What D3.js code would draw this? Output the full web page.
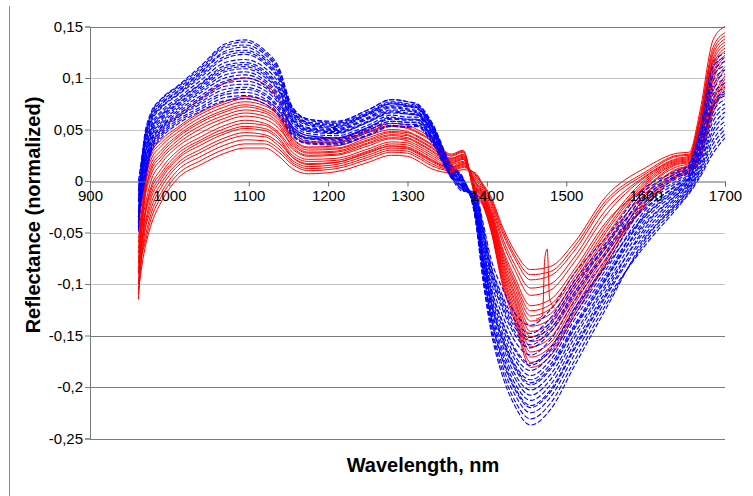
<!DOCTYPE html>
<html>
<head>
<meta charset="utf-8">
<script src="https://cdn.jsdelivr.net/npm/d3@7"></script>
<style>
body { margin: 0; background: #fff; }
svg text { font-family: "Liberation Sans", Arial, sans-serif; fill: #000; }
</style>
</head>
<body>
<div id="chart-area"></div>
<script>
const wavelengths = [961, 968, 976, 990, 1010, 1040, 1070, 1095, 1120, 1138,
  1155, 1175, 1210, 1250, 1280, 1300, 1312, 1330, 1355, 1370,
  1385, 1395, 1405, 1420, 1435, 1455, 1480, 1510, 1550,
  1600, 1640, 1655, 1668, 1685, 1700];

// blue (dashed) spectra
const blue1 = [-0.02, 0.040,0.065,0.080,0.092,0.112,0.133,0.137,0.127,0.110, 0.071,0.060,0.057,0.069,0.079,0.077,0.074,0.057,0.015,0.002, -0.035,-0.096,-0.145,-0.190,-0.218,-0.237,-0.222,-0.180,-0.124, -0.056,-0.022,-0.009,0.008,0.036,0.050];
const blue2 = [0.0, 0.036,0.062,0.077,0.089,0.108,0.129,0.132,0.123,0.106, 0.069,0.057,0.055,0.066,0.076,0.074,0.072,0.055,0.014,0.001, -0.032,-0.089,-0.137,-0.180,-0.207,-0.225,-0.210,-0.169,-0.116, -0.062,-0.026,-0.012,0.003,0.027,0.042];
const blue3 = [-0.035, 0.032,0.058,0.074,0.086,0.105,0.124,0.127,0.118,0.102, 0.070,0.059,0.056,0.067,0.077,0.075,0.073,0.056,0.015,0.002, -0.029,-0.082,-0.128,-0.169,-0.196,-0.213,-0.198,-0.158,-0.107, -0.045,-0.015,-0.003,0.017,0.053,0.067];
const blue4 = [-0.01, 0.029,0.055,0.071,0.083,0.101,0.119,0.123,0.114,0.098, 0.064,0.054,0.051,0.062,0.072,0.070,0.068,0.052,0.012,-0.001, -0.030,-0.085,-0.131,-0.173,-0.200,-0.218,-0.203,-0.162,-0.110, -0.051,-0.019,-0.006,0.012,0.045,0.058];
const blue5 = [-0.048, 0.025,0.052,0.068,0.080,0.098,0.115,0.118,0.110,0.095, 0.066,0.055,0.052,0.064,0.073,0.072,0.070,0.053,0.013,0.000, -0.025,-0.074,-0.117,-0.156,-0.182,-0.198,-0.183,-0.144,-0.096, -0.037,-0.010,0.001,0.024,0.067,0.079];
const blue6 = [-0.005, 0.021,0.048,0.064,0.077,0.094,0.110,0.113,0.105,0.090, 0.060,0.050,0.048,0.058,0.068,0.066,0.065,0.049,0.010,-0.003, -0.026,-0.076,-0.121,-0.160,-0.187,-0.203,-0.188,-0.149,-0.100, -0.042,-0.013,-0.002,0.020,0.058,0.071];
const blue7 = [-0.03, 0.018,0.045,0.061,0.074,0.090,0.106,0.109,0.101,0.087, 0.061,0.051,0.049,0.060,0.069,0.068,0.066,0.050,0.011,-0.002, -0.021,-0.065,-0.107,-0.143,-0.169,-0.184,-0.169,-0.131,-0.086, -0.028,-0.004,0.005,0.031,0.080,0.091];
const blue8 = [-0.015, 0.013,0.041,0.057,0.070,0.086,0.100,0.103,0.096,0.082, 0.056,0.046,0.044,0.054,0.064,0.062,0.062,0.046,0.008,-0.005, -0.023,-0.068,-0.110,-0.148,-0.173,-0.189,-0.174,-0.135,-0.090, -0.034,-0.008,0.003,0.027,0.071,0.083];
const blue9 = [-0.04, 0.009,0.037,0.053,0.066,0.081,0.095,0.097,0.091,0.077, 0.051,0.042,0.041,0.051,0.060,0.059,0.059,0.043,0.006,-0.007, -0.018,-0.057,-0.096,-0.131,-0.155,-0.169,-0.154,-0.117,-0.076, -0.020,0.001,0.010,0.038,0.093,0.104];
const blue10 = [-0.025, 0.004,0.033,0.050,0.062,0.077,0.089,0.091,0.085,0.072, 0.053,0.044,0.042,0.052,0.061,0.060,0.060,0.044,0.007,-0.006, -0.014,-0.048,-0.086,-0.118,-0.142,-0.155,-0.140,-0.104,-0.065, -0.026,-0.003,0.007,0.034,0.084,0.095];
const blue11 = [-0.045, 0.000,0.029,0.046,0.059,0.072,0.084,0.086,0.080,0.068, 0.047,0.039,0.037,0.047,0.056,0.055,0.055,0.040,0.004,-0.009, -0.015,-0.051,-0.089,-0.122,-0.146,-0.159,-0.144,-0.108,-0.069, -0.012,0.006,0.014,0.045,0.106,0.116];
const blue12 = [-0.03, -0.005,0.025,0.042,0.055,0.068,0.078,0.080,0.075,0.063, 0.044,0.036,0.035,0.044,0.053,0.052,0.053,0.038,0.003,-0.010, -0.010,-0.040,-0.075,-0.105,-0.128,-0.140,-0.125,-0.090,-0.055, -0.006,0.010,0.017,0.050,0.115,0.124];
const blue13 = [-0.01, 0.038,0.063,0.079,0.091,0.110,0.131,0.135,0.125,0.108, 0.072,0.060,0.058,0.069,0.079,0.077,0.075,0.058,0.016,0.003, -0.034,-0.093,-0.141,-0.185,-0.213,-0.231,-0.216,-0.175,-0.120, -0.059,-0.024,-0.011,0.005,0.031,0.046];
const blue14 = [-0.04, 0.034,0.060,0.075,0.087,0.106,0.126,0.130,0.120,0.104, 0.067,0.056,0.053,0.065,0.075,0.073,0.071,0.054,0.013,0.000, -0.031,-0.086,-0.132,-0.175,-0.202,-0.220,-0.205,-0.164,-0.112, -0.054,-0.021,-0.008,0.010,0.040,0.054];
const blue15 = [-0.02, 0.031,0.057,0.072,0.084,0.103,0.121,0.125,0.116,0.100, 0.068,0.057,0.054,0.065,0.075,0.073,0.071,0.054,0.014,0.001, -0.028,-0.079,-0.124,-0.165,-0.191,-0.208,-0.193,-0.153,-0.103, -0.048,-0.017,-0.005,0.015,0.049,0.063];
const blue16 = [-0.035, 0.023,0.050,0.066,0.078,0.095,0.112,0.115,0.107,0.092, 0.063,0.052,0.050,0.061,0.071,0.069,0.067,0.051,0.011,-0.002, -0.024,-0.071,-0.114,-0.152,-0.178,-0.193,-0.178,-0.140,-0.093, -0.040,-0.012,0.000,0.022,0.062,0.075];
const blue17 = [-0.01, 0.019,0.047,0.063,0.075,0.092,0.108,0.111,0.103,0.088, 0.058,0.048,0.046,0.057,0.066,0.065,0.064,0.048,0.009,-0.004, -0.025,-0.073,-0.116,-0.154,-0.180,-0.196,-0.181,-0.142,-0.095, -0.031,-0.006,0.004,0.029,0.075,0.087];
const blue18 = [-0.045, 0.015,0.043,0.059,0.072,0.088,0.103,0.106,0.098,0.084, 0.059,0.049,0.047,0.057,0.067,0.065,0.064,0.048,0.010,-0.004, -0.020,-0.061,-0.102,-0.137,-0.162,-0.177,-0.162,-0.124,-0.081, -0.023,-0.001,0.008,0.036,0.089,0.099];
const blue19 = [-0.02, 0.011,0.039,0.055,0.068,0.083,0.097,0.100,0.093,0.079, 0.053,0.044,0.042,0.052,0.062,0.060,0.060,0.044,0.007,-0.006, -0.020,-0.062,-0.103,-0.139,-0.164,-0.179,-0.164,-0.126,-0.083, -0.033,-0.007,0.003,0.027,0.072,0.085];
const blue20 = [-0.035, 0.006,0.035,0.052,0.064,0.079,0.092,0.094,0.088,0.075, 0.050,0.041,0.040,0.049,0.058,0.057,0.057,0.042,0.006,-0.007, -0.016,-0.053,-0.091,-0.125,-0.149,-0.162,-0.147,-0.111,-0.071, -0.017,0.003,0.011,0.041,0.097,0.108];
const blue21 = [-0.015, 0.002,0.031,0.048,0.061,0.075,0.086,0.089,0.083,0.070, 0.049,0.041,0.039,0.049,0.058,0.057,0.057,0.042,0.005,-0.008, -0.012,-0.044,-0.081,-0.112,-0.135,-0.148,-0.133,-0.097,-0.060, -0.009,0.008,0.016,0.048,0.111,0.120];
const blue22 = [-0.04, -0.003,0.027,0.044,0.057,0.070,0.081,0.083,0.078,0.065, 0.045,0.037,0.036,0.045,0.054,0.053,0.054,0.039,0.004,-0.009, -0.013,-0.047,-0.083,-0.115,-0.139,-0.152,-0.137,-0.101,-0.063, -0.014,0.005,0.013,0.043,0.102,0.112];

// red (solid) spectra
const red1 = [-0.06, -0.012,0.028,0.050,0.063,0.080,0.095,0.100,0.094,0.080, 0.052,0.042,0.041,0.050,0.056,0.054,0.050,0.042,0.026,0.030, -0.014,-0.024,-0.048,-0.102,-0.136,-0.181,-0.170,-0.131,-0.081, -0.021,0.006,0.010,0.025,0.073,0.096];
const red2 = [-0.03, -0.004,0.026,0.040,0.052,0.067,0.077,0.082,0.078,0.068, 0.046,0.037,0.037,0.047,0.053,0.051,0.047,0.039,0.024,0.028, -0.010,-0.021,-0.043,-0.093,-0.126,-0.166,-0.157,-0.120,-0.071, -0.025,0.004,0.008,0.020,0.066,0.090];
const red3 = [-0.08, -0.011,0.019,0.034,0.047,0.062,0.072,0.077,0.073,0.063, 0.042,0.033,0.034,0.044,0.050,0.048,0.044,0.036,0.022,0.026, -0.013,-0.023,-0.047,-0.099,-0.133,-0.176,-0.166,-0.128,-0.078, -0.014,0.011,0.014,0.034,0.087,0.108];
const red4 = [-0.05, -0.018,0.011,0.027,0.042,0.057,0.067,0.072,0.068,0.059, 0.039,0.030,0.031,0.040,0.047,0.045,0.041,0.033,0.021,0.024, -0.007,-0.017,-0.038,-0.084,-0.115,-0.151,-0.143,-0.109,-0.061, -0.017,0.009,0.012,0.029,0.080,0.102];
const red5 = [-0.10, -0.025,0.004,0.021,0.036,0.051,0.061,0.066,0.063,0.054, 0.033,0.025,0.026,0.036,0.042,0.041,0.037,0.029,0.018,0.021, -0.008,-0.018,-0.040,-0.087,-0.118,-0.156,-0.147,-0.113,-0.064, -0.008,0.014,0.017,0.041,0.098,0.117];
const red6 = [-0.065, -0.035,-0.008,0.012,0.029,0.043,0.054,0.059,0.056,0.047, 0.031,0.024,0.025,0.034,0.041,0.039,0.035,0.027,0.017,0.021, -0.004,-0.014,-0.033,-0.075,-0.104,-0.136,-0.129,-0.098,-0.050, -0.002,0.018,0.020,0.048,0.109,0.126];
const red7 = [-0.115, -0.042,-0.015,0.005,0.023,0.038,0.048,0.053,0.051,0.042, 0.025,0.019,0.020,0.029,0.036,0.035,0.031,0.023,0.014,0.018, 0.000,-0.011,-0.027,-0.066,-0.093,-0.121,-0.115,-0.086,-0.040, -0.006,0.016,0.018,0.043,0.102,0.120];
const red8 = [-0.085, -0.050,-0.024,-0.002,0.017,0.031,0.042,0.047,0.045,0.037, 0.023,0.017,0.018,0.028,0.034,0.033,0.029,0.021,0.013,0.017, 0.002,-0.009,-0.024,-0.060,-0.086,-0.111,-0.106,-0.079,-0.033, 0.004,0.021,0.023,0.055,0.119,0.135];
const red9 = [-0.09, -0.060,-0.034,-0.011,0.010,0.024,0.035,0.040,0.039,0.031, 0.018,0.012,0.014,0.023,0.030,0.029,0.025,0.017,0.011,0.014, 0.006,-0.005,-0.019,-0.051,-0.075,-0.096,-0.092,-0.068,-0.022, 0.007,0.024,0.025,0.059,0.126,0.141];
const red10 = [-0.105, -0.070,-0.045,-0.020,0.002,0.016,0.027,0.032,0.032,0.024, 0.012,0.007,0.009,0.018,0.025,0.024,0.020,0.012,0.008,0.011, 0.008,-0.003,-0.015,-0.045,-0.068,-0.086,-0.083,-0.060,-0.015, 0.013,0.027,0.028,0.066,0.137,0.150];
const red11 = [-0.045, -0.007,0.023,0.037,0.050,0.065,0.075,0.080,0.075,0.065, 0.048,0.038,0.038,0.048,0.054,0.052,0.048,0.040,0.025,0.029, -0.012,-0.022,-0.045,-0.096,-0.129,-0.171,-0.161,-0.124,-0.075, -0.023,0.005,0.009,0.022,0.070,0.093];
const red12 = [-0.07, -0.014,0.015,0.030,0.044,0.059,0.069,0.074,0.070,0.061, 0.041,0.032,0.032,0.042,0.048,0.047,0.043,0.035,0.022,0.025, -0.009,-0.020,-0.041,-0.090,-0.122,-0.161,-0.152,-0.116,-0.068, -0.019,0.008,0.011,0.027,0.077,0.099];
const red13 = [-0.09, -0.021,0.008,0.024,0.039,0.054,0.064,0.069,0.066,0.056, 0.037,0.028,0.029,0.039,0.045,0.044,0.040,0.032,0.020,0.023, -0.006,-0.016,-0.036,-0.081,-0.111,-0.146,-0.138,-0.105,-0.057, -0.012,0.012,0.015,0.036,0.091,0.111];
const red14 = [-0.055, -0.029,-0.002,0.017,0.033,0.047,0.058,0.063,0.060,0.051, 0.035,0.027,0.028,0.037,0.044,0.042,0.038,0.030,0.019,0.022, -0.005,-0.015,-0.034,-0.078,-0.108,-0.141,-0.134,-0.101,-0.054, -0.004,0.017,0.019,0.046,0.105,0.122];
const red15 = [-0.10, -0.039,-0.011,0.008,0.026,0.040,0.051,0.056,0.054,0.045, 0.028,0.021,0.022,0.031,0.038,0.037,0.033,0.025,0.016,0.019, -0.002,-0.013,-0.031,-0.072,-0.100,-0.131,-0.124,-0.094,-0.047, 0.000,0.019,0.021,0.050,0.112,0.129];
const red16 = [-0.075, -0.046,-0.019,0.002,0.021,0.035,0.046,0.051,0.049,0.040, 0.023,0.016,0.018,0.027,0.034,0.032,0.028,0.020,0.013,0.016, -0.001,-0.012,-0.029,-0.069,-0.097,-0.126,-0.120,-0.090,-0.043, 0.002,0.020,0.022,0.052,0.116,0.132];
const red17 = [-0.11, -0.055,-0.029,-0.006,0.014,0.028,0.039,0.044,0.043,0.034, 0.020,0.014,0.016,0.025,0.032,0.031,0.027,0.019,0.012,0.015, 0.004,-0.007,-0.021,-0.056,-0.081,-0.104,-0.100,-0.074,-0.028, 0.005,0.022,0.024,0.057,0.123,0.138];
const red18 = [-0.08, -0.064,-0.039,-0.015,0.006,0.020,0.031,0.036,0.036,0.028, 0.016,0.010,0.012,0.021,0.028,0.027,0.023,0.015,0.010,0.013, 0.007,-0.004,-0.017,-0.048,-0.072,-0.091,-0.088,-0.064,-0.019, 0.009,0.025,0.026,0.061,0.130,0.144];

// the little loop on one red spectrum near 1475 nm
const spikeWavelengths = [1462, 1470, 1473, 1476, 1479, 1486];
const spikeValues = [-0.134, -0.131, -0.075, -0.066, -0.114, -0.124];

const blueSeries = [blue1, blue2, blue3, blue4, blue5, blue6, blue7, blue8, blue9, blue10, blue11,
  blue12, blue13, blue14, blue15, blue16, blue17, blue18, blue19, blue20, blue21, blue22];
const redSeries = [red1, red2, red3, red4, red5, red6, red7, red8, red9,
  red10, red11, red12, red13, red14, red15, red16, red17, red18];

const xTicks = [900, 1000, 1100, 1200, 1300, 1400, 1500, 1600, 1700];
const yTicks = [0.15, 0.1, 0.05, 0, -0.05, -0.1, -0.15, -0.2, -0.25];
const yTickLabels = ["0,15", "0,1", "0,05", "0", "-0,05", "-0,1", "-0,15", "-0,2", "-0,25"];

const W = 753, H = 496;
const plot = {left: 90, right: 725, top: 26.5, bottom: 438.5};

const svg = d3.select("#chart-area").append("svg")
  .attr("width", W).attr("height", H);

// thin frame line on the far left
svg.append("line")
  .attr("x1", 9.5).attr("x2", 9.5).attr("y1", 6).attr("y2", H)
  .attr("stroke", "#8c8c8c").attr("stroke-width", 1);

const x = d3.scaleLinear().domain([900, 1700]).range([plot.left, plot.right]);
const y = d3.scaleLinear().domain([-0.25, 0.15]).range([plot.bottom, plot.top]);

// horizontal gridlines
const darkLines = [0.15, -0.15, -0.2, -0.25];
svg.append("g").selectAll("line")
  .data(yTicks.filter(d => d !== 0))
  .enter().append("line")
  .attr("x1", plot.left).attr("x2", plot.right)
  .attr("y1", d => Math.round(y(d)) + 0.5).attr("y2", d => Math.round(y(d)) + 0.5)
  .attr("stroke", d => darkLines.some(v => Math.abs(v - d) < 1e-9) ? "#7a7a7a" : "#c4c4c4")
  .attr("stroke-width", 1);

// y axis
const yAxis = svg.append("g")
  .attr("transform", "translate(" + plot.left + ",0)")
  .call(d3.axisLeft(y).tickValues(yTicks).tickSize(5)
    .tickFormat((d, i) => yTickLabels[i]));
yAxis.select(".domain").attr("stroke", "#7a7a7a");
yAxis.selectAll(".tick line").attr("stroke", "#7a7a7a");
yAxis.selectAll(".tick text")
  .attr("x", -7)
  .attr("font-size", "15px")
  .style("font-family", "'Liberation Sans', Arial, sans-serif");

// spectra
const line = d3.line()
  .x((d, i) => x(wavelengths[i]))
  .y(d => y(d))
  .curve(d3.curveMonotoneX);

const curves = svg.append("g");
const n = Math.max(blueSeries.length, redSeries.length);
for (let i = 0; i < n; i++) {
  if (blueSeries[i]) {
    curves.append("path")
      .attr("d", line(blueSeries[i]))
      .attr("fill", "none")
      .attr("stroke", "#0000ff")
      .attr("stroke-width", 1.1)
      .attr("stroke-dasharray", "5,2");
  }
  if (redSeries[i]) {
    curves.append("path")
      .attr("d", line(redSeries[i]))
      .attr("fill", "none")
      .attr("stroke", "#ff0000")
      .attr("stroke-width", 1);
  }
}
curves.append("path")
  .attr("d", d3.line().x((d, i) => x(spikeWavelengths[i])).y(d => y(d))
    .curve(d3.curveMonotoneX)(spikeValues))
  .attr("fill", "none")
  .attr("stroke", "#ff0000")
  .attr("stroke-width", 1);

// x axis through zero
const xAxis = svg.append("g")
  .attr("transform", "translate(0," + (Math.round(y(0)) + 0.5) + ")")
  .call(d3.axisBottom(x).tickValues(xTicks).tickSize(5).tickFormat(d3.format("d")));
xAxis.select(".domain").attr("stroke", "#666");
xAxis.selectAll(".tick line").attr("stroke", "#666");
xAxis.selectAll(".tick text")
  .attr("y", 9)
  .attr("font-size", "15px")
  .style("font-family", "'Liberation Sans', Arial, sans-serif");

// axis titles
svg.append("text")
  .attr("x", 423).attr("y", 472)
  .attr("text-anchor", "middle")
  .attr("font-size", "20px")
  .attr("font-weight", "bold")
  .text("Wavelength, nm");

svg.append("text")
  .attr("transform", "translate(40,215) rotate(-90)")
  .attr("text-anchor", "middle")
  .attr("font-size", "20px")
  .attr("font-weight", "bold")
  .text("Reflectance (normalized)");
</script>
</body>
</html>
